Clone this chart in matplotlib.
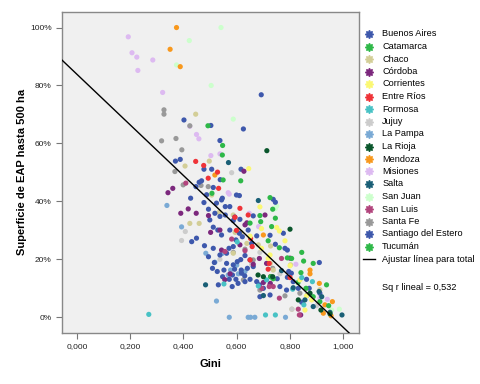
import matplotlib
matplotlib.use("Agg")
import matplotlib.pyplot as plt
from matplotlib.lines import Line2D
from matplotlib.ticker import FuncFormatter

# ============ DATA ============
provinces = ["Buenos Aires", "Catamarca", "Chaco", "Córdoba", "Corrientes", "Entre Ríos",
             "Formosa", "Jujuy", "La Pampa", "La Rioja", "Mendoza", "Misiones", "Salta",
             "San Juan", "San Luis", "Santa Fe", "Santiago del Estero", "Tucumán"]

colors = ["#3e58ac", "#2eb848", "#d3ce97", "#7c287d", "#fbf873", "#ef3338",
          "#48c2c5", "#cccccc", "#7aaad5", "#0a562c", "#f8981d", "#ddbaf1", "#1a5f76",
          "#ccffcc", "#b2457d", "#999999", "#3e58ac", "#2eb848"]

gini = {
    "Buenos Aires": [0.692, 0.625, 0.503, 0.402, 0.537, 0.388, 0.370, 0.506, 0.477, 0.616,
                     0.538, 0.512, 0.546, 0.543, 0.599, 0.610, 0.468, 0.459, 0.447, 0.427,
                     0.487, 0.477, 0.494, 0.518, 0.537, 0.587, 0.612, 0.662, 0.512, 0.529,
                     0.574, 0.610, 0.643, 0.675, 0.725, 0.775, 0.781, 0.790, 0.745, 0.431,
                     0.449, 0.479, 0.494, 0.516, 0.509, 0.527, 0.562, 0.587, 0.602, 0.615,
                     0.631, 0.650, 0.640, 0.662, 0.617, 0.618, 0.630, 0.597, 0.605, 0.650],
    "Santiago del Estero": [0.631, 0.675, 0.685, 0.700, 0.725, 0.752, 0.790, 0.812, 0.831, 0.862,
                            0.866, 0.910, 0.805, 0.795, 0.762, 0.787, 0.872, 0.912, 0.844, 0.737,
                            0.745, 0.583, 0.531, 0.552, 0.547, 0.584, 0.572, 0.592, 0.512, 0.537,
                            0.562, 0.587, 0.597, 0.621, 0.687, 0.725, 0.656, 0.571, 0.543, 0.499,
                            0.557, 0.574, 0.557, 0.524],
    "Catamarca": [0.492, 0.547, 0.546, 0.507, 0.549, 0.615, 0.725, 0.735, 0.745, 0.731,
                  0.687, 0.718, 0.844, 0.851, 0.806, 0.841, 0.887, 0.937, 0.887, 0.912, 0.737, 0.727],
    "Tucumán": [0.650, 0.690, 0.760, 0.790, 0.830, 0.860, 0.945],
    "Chaco": [0.446, 0.406, 0.497, 0.506, 0.424, 0.459, 0.534, 0.587, 0.594, 0.587,
              0.638, 0.681, 0.727, 0.726, 0.737, 0.807, 0.802, 0.912, 0.615],
    "Córdoba": [0.342, 0.360, 0.390, 0.418, 0.448, 0.494, 0.502, 0.537, 0.593, 0.631,
                0.638, 0.543, 0.612, 0.662, 0.706, 0.627, 0.685, 0.712, 0.726, 0.800,
                0.840, 0.727, 0.700, 0.575, 0.555],
    "Corrientes": [0.687, 0.693, 0.760, 0.781, 0.693, 0.718, 0.800, 0.837, 0.862, 0.881,
                   0.856, 0.750, 0.645, 0.725, 0.650],
    "Entre Ríos": [0.446, 0.476, 0.493, 0.528, 0.532, 0.612, 0.593, 0.643, 0.652, 0.658,
                   0.722, 0.718, 0.650, 0.800, 0.599],
    "Formosa": [0.270, 0.552, 0.681, 0.712, 0.708, 0.745, 0.844, 0.852, 0.884, 0.810, 0.602],
    "Jujuy": [0.393, 0.407, 0.581, 0.687, 0.656, 0.807, 0.700, 0.762, 0.537, 0.900],
    "La Pampa": [0.338, 0.393, 0.524, 0.572, 0.643, 0.652, 0.668, 0.783, 0.484, 0.518,
                 0.577, 0.568, 0.631, 0.545, 0.600, 0.606],
    "La Rioja": [0.713, 0.800, 0.735, 0.700, 0.831, 0.916, 0.875, 0.680, 0.950],
    "Mendoza": [0.374, 0.350, 0.388, 0.518, 0.700, 0.875, 0.875, 0.910, 0.931, 0.925, 0.959, 0.954],
    "Misiones": [0.193, 0.207, 0.225, 0.285, 0.229, 0.322, 0.424, 0.449, 0.458, 0.503,
                 0.537, 0.568, 0.572, 0.647, 0.682, 0.822, 0.912, 0.940],
    "Salta": [0.569, 0.681, 0.483, 0.768, 0.812, 0.887, 0.950, 0.995, 0.909, 0.919, 0.856, 0.700],
    "San Juan": [0.541, 0.422, 0.374, 0.504, 0.587, 0.745, 0.750, 0.956, 0.985],
    "San Luis": [0.409, 0.556, 0.631, 0.722, 0.737, 0.760, 0.835, 0.831, 0.768, 0.581, 0.694],
    "Santa Fe": [0.327, 0.327, 0.372, 0.318, 0.424, 0.394, 0.368, 0.399, 0.466, 0.493,
                 0.587, 0.631, 0.662, 0.625, 0.687, 0.781, 0.735, 0.837],
}

superficie = {
    "Buenos Aires": [0.768, 0.650, 0.662, 0.681, 0.610, 0.545, 0.539, 0.511, 0.511, 0.511,
                     0.475, 0.448, 0.411, 0.405, 0.422, 0.420, 0.471, 0.466, 0.451, 0.411,
                     0.423, 0.396, 0.373, 0.359, 0.348, 0.334, 0.338, 0.350, 0.311, 0.301,
                     0.301, 0.290, 0.301, 0.281, 0.283, 0.290, 0.238, 0.232, 0.252, 0.261,
                     0.273, 0.247, 0.209, 0.189, 0.169, 0.158, 0.186, 0.181, 0.192, 0.199,
                     0.213, 0.198, 0.169, 0.175, 0.163, 0.152, 0.143, 0.131, 0.117, 0.131],
    "Santiago del Estero": [0.123, 0.123, 0.112, 0.100, 0.112, 0.133, 0.138, 0.123, 0.100, 0.131,
                            0.077, 0.189, 0.152, 0.158, 0.106, 0.094, 0.100, 0.083, 0.052, 0.407,
                            0.397, 0.106, 0.112, 0.163, 0.140, 0.146, 0.131, 0.166, 0.238, 0.215,
                            0.221, 0.244, 0.267, 0.278, 0.071, 0.077, 0.255, 0.238, 0.284, 0.336,
                            0.353, 0.382, 0.382, 0.394],
    "Catamarca": [0.661, 0.593, 0.560, 0.428, 0.474, 0.471, 0.413, 0.373, 0.342, 0.313,
                  0.351, 0.264, 0.224, 0.194, 0.203, 0.154, 0.186, 0.112, 0.071, 0.054, 0.133, 0.140],
    "Tucumán": [0.325, 0.330, 0.240, 0.205, 0.120, 0.100, 0.040],
    "Chaco": [0.701, 0.522, 0.539, 0.422, 0.324, 0.324, 0.362, 0.353, 0.293, 0.221,
              0.255, 0.250, 0.246, 0.186, 0.163, 0.028, 0.181, 0.095, 0.293],
    "Córdoba": [0.430, 0.445, 0.359, 0.374, 0.359, 0.351, 0.293, 0.301, 0.346, 0.319,
                0.326, 0.232, 0.250, 0.183, 0.353, 0.504, 0.203, 0.186, 0.117, 0.204,
                0.008, 0.140, 0.120, 0.150, 0.130],
    "Corrientes": [0.381, 0.306, 0.298, 0.264, 0.238, 0.203, 0.178, 0.129, 0.074, 0.060,
                   0.025, 0.310, 0.513, 0.215, 0.280],
    "Entre Ríos": [0.538, 0.524, 0.480, 0.501, 0.445, 0.376, 0.345, 0.353, 0.272, 0.244,
                   0.186, 0.166, 0.198, 0.137, 0.300],
    "Formosa": [0.010, 0.115, 0.108, 0.129, 0.008, 0.008, 0.137, 0.043, 0.123, 0.097, 0.260],
    "Jujuy": [0.265, 0.296, 0.499, 0.224, 0.183, 0.028, 0.074, 0.150, 0.200, 0.040],
    "La Pampa": [0.386, 0.312, 0.056, 0.0, 0.0, 0.0, 0.0, 0.0, 0.221, 0.190,
                 0.163, 0.146, 0.158, 0.220, 0.180, 0.150],
    "La Rioja": [0.575, 0.304, 0.140, 0.140, 0.060, 0.025, 0.083, 0.146, 0.012],
    "Mendoza": [1.0, 0.925, 0.865, 0.491, 0.284, 0.163, 0.150, 0.117, 0.043, 0.014, 0.054, 0.005],
    "Misiones": [0.968, 0.913, 0.898, 0.888, 0.852, 0.776, 0.659, 0.631, 0.616, 0.558,
                 0.564, 0.430, 0.425, 0.359, 0.313, 0.183, 0.066, 0.062],
    "Salta": [0.534, 0.403, 0.112, 0.161, 0.102, 0.037, 0.017, 0.008, 0.089, 0.071, 0.060, 0.075],
    "San Juan": [1.0, 0.955, 0.871, 0.800, 0.684, 0.375, 0.384, 0.025, 0.028],
    "San Luis": [0.463, 0.227, 0.230, 0.106, 0.106, 0.066, 0.008, 0.028, 0.203, 0.270, 0.100],
    "Santa Fe": [0.716, 0.701, 0.617, 0.609, 0.661, 0.578, 0.503, 0.457, 0.455, 0.451,
                 0.224, 0.235, 0.198, 0.129, 0.094, 0.074, 0.169, 0.083],
}

fit_intercept = 0.839
fit_slope = -0.874
r_squared = "0,532"

# ============ PLOT ============
plt.rcParams["font.family"] = ["Liberation Sans", "DejaVu Sans"]

fig = plt.figure(figsize=(4.8, 3.84), dpi=100)
ax = fig.add_axes([0.129, 0.133, 0.619, 0.836])
ax.set_facecolor("#f0f0f0")

draw_order = ["Misiones", "San Juan", "Mendoza", "Santa Fe", "Chaco", "Jujuy", "La Pampa",
              "Buenos Aires", "Santiago del Estero", "Córdoba", "San Luis", "Entre Ríos",
              "Catamarca", "Tucumán", "Corrientes", "Formosa", "Salta", "La Rioja"]
for p in draw_order:
    c = colors[provinces.index(p)]
    ax.scatter(gini[p], superficie[p], s=14, color=c, edgecolors="none", zorder=2)

xlim = (-0.056, 1.059)
ax.plot(xlim, [fit_intercept + fit_slope * v for v in xlim], color="black", lw=1, zorder=3)
ax.set_xlim(xlim)
ax.set_ylim(-0.054, 1.054)

ax.set_xticks([0, 0.2, 0.4, 0.6, 0.8, 1.0])
ax.set_yticks([0, 0.2, 0.4, 0.6, 0.8, 1.0])
ax.xaxis.set_major_formatter(FuncFormatter(lambda v, _: f"{v:.3f}".replace(".", ",")))
ax.yaxis.set_major_formatter(FuncFormatter(lambda v, _: f"{v * 100:.0f}%"))
ax.tick_params(labelsize=6, length=4, color="#777777", labelcolor="#222222")
for s in ax.spines.values():
    s.set_color("#888888")
    s.set_linewidth(1)

ax.set_xlabel("Gini", fontsize=8, fontweight="bold", labelpad=6)
ax.set_ylabel("Superficie de EAP hasta 500 ha", fontsize=8, fontweight="bold", labelpad=2)

# legend drawn by hand, SPSS style
y0, step = 1 - 34 / 384, 12.5 / 384
for i, (p, c) in enumerate(zip(provinces, colors)):
    y = y0 - i * step
    fig.add_artist(Line2D([0.769], [y], marker=(8, 1, 0), markersize=6, color=c,
                          linestyle="none", transform=fig.transFigure))
    fig.text(0.796, y, p, fontsize=6.6, va="center", ha="left")
y = y0 - len(provinces) * step
fig.add_artist(Line2D([0.757, 0.781], [y, y], color="black", lw=1, transform=fig.transFigure))
fig.text(0.796, y, "Ajustar línea para total", fontsize=6.6, va="center", ha="left")
fig.text(0.796, 1 - 287 / 384, f"Sq r lineal = {r_squared}", fontsize=6.6, va="center", ha="left")

fig.savefig("out.png", dpi=100, facecolor="white")
